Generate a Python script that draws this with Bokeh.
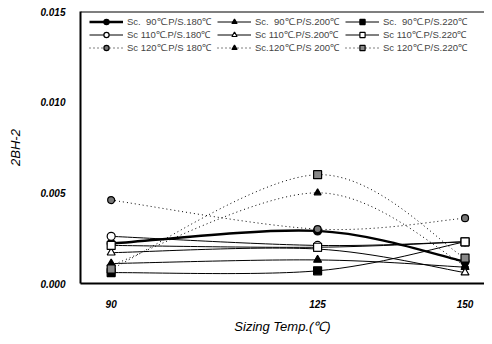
import numpy as np
from bokeh.plotting import figure
from bokeh.models import FixedTicker, NumeralTickFormatter, Legend, LegendItem, Span
from bokeh.embed import file_html
from bokeh.resources import INLINE

# ---- data ----
sizing_temp = [90, 125, 150]
sc90_ps180 = [0.0022, 0.0029, 0.0012]
sc90_ps200 = [0.0011, 0.0013, 0.0009]
sc90_ps220 = [0.0006, 0.0007, 0.0023]
sc110_ps180 = [0.0026, 0.0021, 0.0023]
sc110_ps200 = [0.0017, 0.0019, 0.0006]
sc110_ps220 = [0.0021, 0.0020, 0.0023]
sc120_ps180 = [0.0046, 0.0030, 0.0036]
sc120_ps200 = [0.0010, 0.0050, 0.0010]
sc120_ps220 = [0.0008, 0.0060, 0.0014]

labels = [
    "Sc.  90\u2103.P/S.180\u2103", "Sc.  90\u2103.P/S.200\u2103", "Sc.  90\u2103.P/S.220\u2103",
    "Sc 110\u2103.P/S.180\u2103", "Sc 110\u2103.P/S.200\u2103", "Sc 110\u2103.P/S.220\u2103",
    "Sc 120\u2103.P/S 180\u2103", "Sc.120\u2103.P/S 200\u2103", "Sc 120\u2103.P/S.220\u2103",
]
y_ticks = [0.0, 0.005, 0.010, 0.015]

series = [sc90_ps180, sc90_ps200, sc90_ps220,
          sc110_ps180, sc110_ps200, sc110_ps220,
          sc120_ps180, sc120_ps200, sc120_ps220]

# styles: (marker, fill, line_width, dash, size)
styles = [
    ("circle", "black", 2.4, "solid", 8),
    ("triangle", "black", 1.0, "solid", 8),
    ("square", "black", 1.0, "solid", 8),
    ("circle", "white", 1.0, "solid", 8),
    ("triangle", "white", 1.0, "solid", 8),
    ("square", "white", 1.0, "solid", 8),
    ("circle", "#777777", 1.0, "1 3", 7),
    ("triangle", "black", 1.0, "1 3", 7),
    ("square", "#888888", 1.0, "1 3", 8),
]

p = figure(width=484, height=336, x_range=(84.8, 153.3), y_range=(0, 0.015),
           output_backend="svg", toolbar_location=None,
           min_border_left=80, min_border_right=0, min_border_top=11, min_border_bottom=52)
p.grid.visible = False
p.outline_line_color = None
p.background_fill_color = "white"

FONT = "Liberation Sans"
for ax in (p.xaxis[0], p.yaxis[0]):
    ax.axis_line_width = 2
    ax.axis_line_color = "black"
    ax.major_tick_line_color = None
    ax.minor_tick_line_color = None
    ax.major_label_text_font = FONT
    ax.major_label_text_font_style = "bold italic"
    ax.major_label_text_font_size = "10px"
    ax.major_label_text_color = "black"
    ax.axis_label_text_font = FONT
    ax.axis_label_text_font_style = "italic"
    ax.axis_label_text_color = "black"

p.xaxis.ticker = FixedTicker(ticks=sizing_temp)
p.xaxis.major_label_standoff = 10
p.xaxis.axis_label = "Sizing Temp.(\u2103)"
p.xaxis.axis_label_text_font_size = "13px"
p.xaxis.axis_label_standoff = 8

p.yaxis.ticker = FixedTicker(ticks=y_ticks)
p.yaxis.formatter = NumeralTickFormatter(format="0.000")
p.yaxis.major_label_standoff = 9
p.yaxis.axis_label = "2BH-2"
p.yaxis.axis_label_text_font_size = "13px"
p.yaxis.axis_label_standoff = 14

p.add_layout(Span(location=0.015, dimension="width", line_color="black", line_width=2))

def bezier_parts(xs, ys):
    xs = np.asarray(xs, float); ys = np.asarray(ys, float)
    n = len(xs)
    x0, y0, x1, y1, cx0, cy0, cx1, cy1 = ([] for _ in range(8))
    for i in range(n - 1):
        im = max(i - 1, 0); ip2 = min(i + 2, n - 1)
        x0.append(xs[i]); y0.append(ys[i]); x1.append(xs[i + 1]); y1.append(ys[i + 1])
        cx0.append(xs[i] + (xs[i + 1] - xs[im]) / 6); cy0.append(ys[i] + (ys[i + 1] - ys[im]) / 6)
        cx1.append(xs[i + 1] - (xs[ip2] - xs[i]) / 6); cy1.append(ys[i + 1] - (ys[ip2] - ys[i]) / 6)
    return dict(x0=x0, y0=y0, x1=x1, y1=y1, cx0=cx0, cy0=cy0, cx1=cx1, cy1=cy1)

items = []
for vals, lab, (mk, fill, lw, dash, sz) in zip(series, labels, styles):
    b = bezier_parts(sizing_temp, vals)
    p.bezier(**b, line_color="black", line_width=lw, line_dash=dash)
    leg_line = p.line(x=[float("nan")], y=[float("nan")], line_color="black",
                      line_width=lw, line_dash=dash)
    sc = p.scatter(x=sizing_temp, y=vals, marker=mk, size=sz, fill_color=fill,
                   line_color="black", line_width=1.2)
    items.append(LegendItem(label=lab, renderers=[leg_line, sc]))

legend = Legend(items=items, orientation="horizontal", ncols=3,
                location=(9, 229), margin=0, padding=1, spacing=0,
                glyph_width=34, glyph_height=13, label_height=13, label_standoff=4,
                label_width=90,
                label_text_font=FONT, label_text_font_size="9.5px",
                border_line_color=None, background_fill_alpha=0)
p.add_layout(legend, "center")

open("out.html", "w").write(file_html(p, INLINE))
